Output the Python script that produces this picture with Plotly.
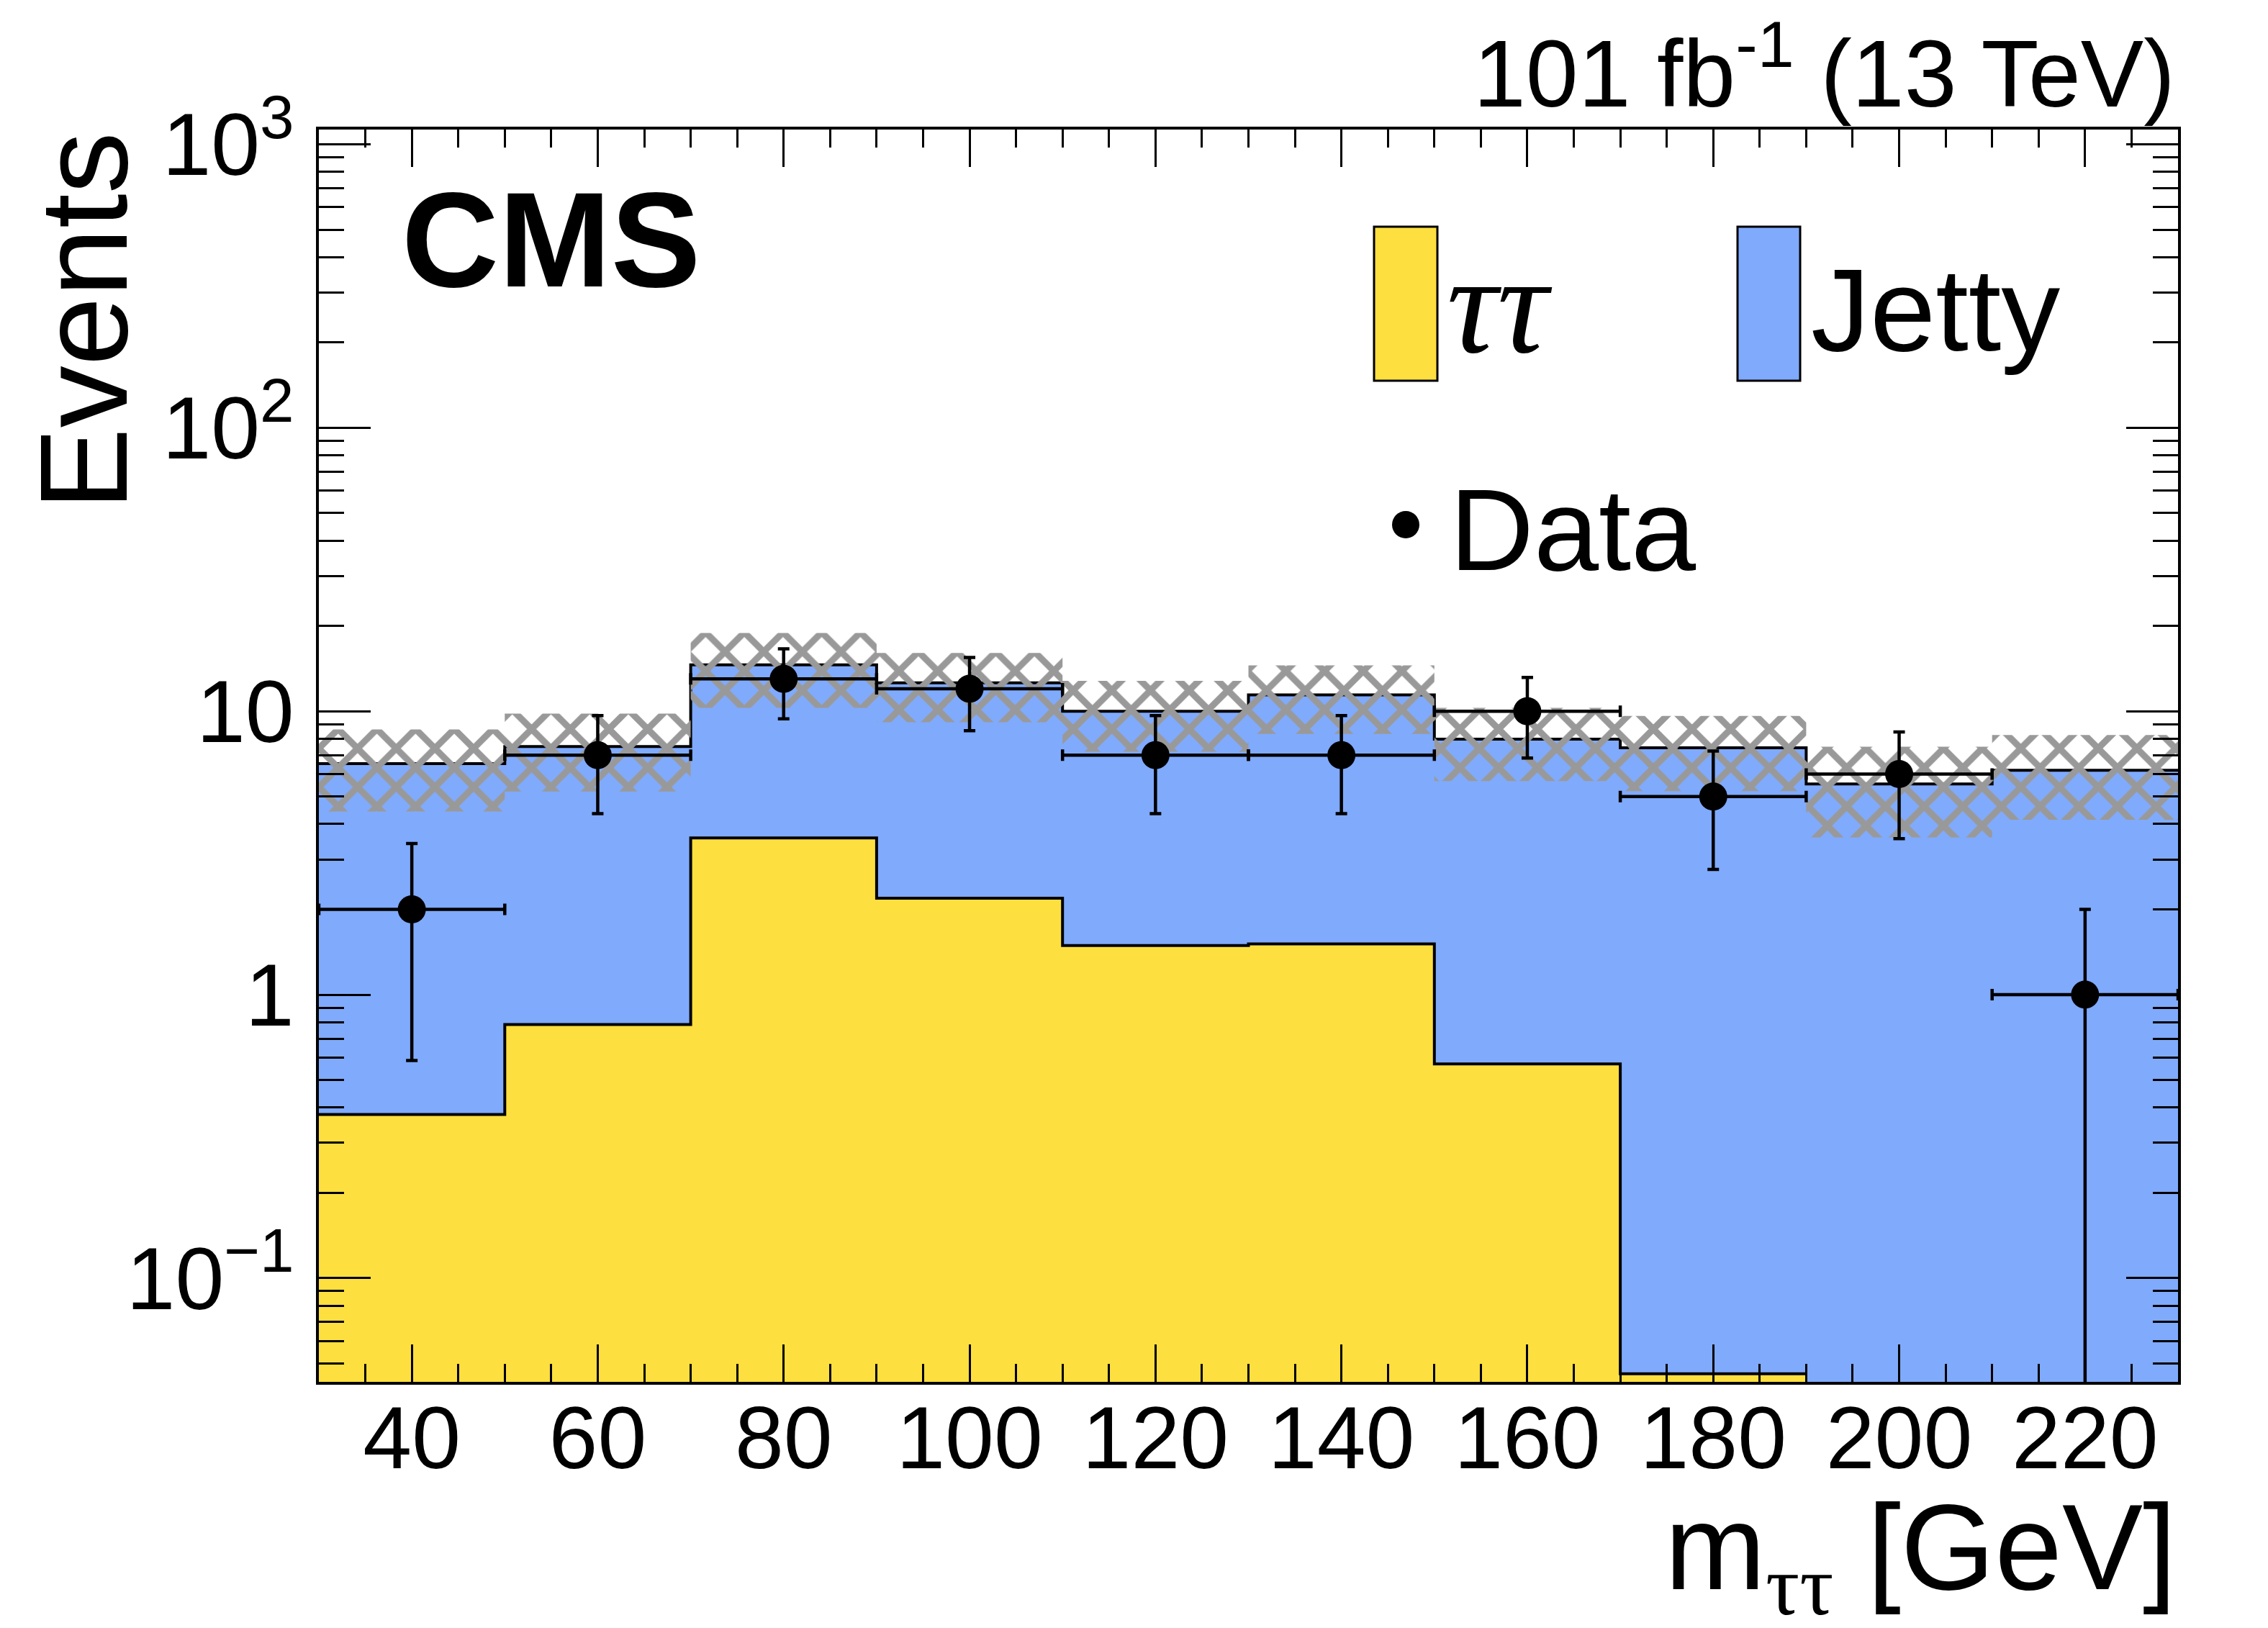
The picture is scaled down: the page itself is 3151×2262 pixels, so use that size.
import numpy as np
import plotly.graph_objects as go

# m_tautau binning [GeV]
edges = [30, 50, 70, 90, 110, 130, 150, 170, 190, 210, 230]

# stacked backgrounds (events per bin)
tautau = [0.378, 0.785, 3.57, 2.19, 1.49, 1.51, 0.57, 0.046, 0.0, 0.0]
jetty = [6.15, 6.72, 11.0, 10.4, 8.5, 9.9, 7.4, 7.38, 5.54, 6.19]
# absolute uncertainty on the total background
bkg_unc = [2.1, 2.3, 4.3, 3.45, 2.8, 3.1, 2.3, 2.2, 1.95, 2.05]

# observed
data = [2, 7, 13, 12, 7, 7, 10, 5, 6, 1]

y_ticks = [0.1, 1, 10, 100, 1000]
y_ticktext = ["10<sup>\u22121</sup>", "1", "10", "10<sup>2</sup>", "10<sup>3</sup>"]

YELLOW = "#FEDF40"
BLUE = "#80AAFC"
FONT = "Liberation Sans, Arial, Helvetica, sans-serif"
SERIF = "Liberation Serif, DejaVu Serif, serif"

W, H = 3151, 2262
L, R, T, B = 443, 3026, 180, 1920  # frame in pixels


def px_x(X):
    return (X - L) / (R - L)


def px_y(Y):
    return (B - Y) / (B - T)


edges_a = np.array(edges, dtype=float)
centers = 0.5 * (edges_a[1:] + edges_a[:-1])
widths = edges_a[1:] - edges_a[:-1]
total = np.array(tautau) + np.array(jetty)

# step outlines
xs_step = np.repeat(edges_a, 2)[1:-1]
n_tt = int(np.count_nonzero(np.array(tautau) > 0))
xs_tt = np.repeat(edges_a[:n_tt + 1], 2)[1:-1]

fig = go.Figure()

fig.add_trace(go.Bar(x=centers, y=tautau, width=widths, marker_color=YELLOW,
                     marker_line_width=0, name="ττ"))
fig.add_trace(go.Bar(x=centers, y=jetty, width=widths, marker_color=BLUE,
                     marker_line_width=0, name="Jetty"))

fig.add_trace(go.Scatter(x=xs_tt, y=np.repeat(tautau[:n_tt], 2), mode="lines",
                         line=dict(color="black", width=4), hoverinfo="skip"))
fig.add_trace(go.Scatter(x=xs_step, y=np.repeat(total, 2), mode="lines",
                         line=dict(color="black", width=4), hoverinfo="skip"))

# hatched uncertainty band
top = total + np.array(bkg_unc)
bot = total - np.array(bkg_unc)
fig.add_trace(go.Scatter(
    x=np.concatenate([xs_step, xs_step[::-1]]),
    y=np.concatenate([np.repeat(top, 2), np.repeat(bot, 2)[::-1]]),
    mode="lines", fill="toself", line=dict(width=0, color="rgba(0,0,0,0)"),
    fillcolor="rgba(0,0,0,0)",
    fillpattern=dict(shape="x", fgcolor="#999999", fgopacity=1,
                     bgcolor="rgba(0,0,0,0)", size=38, solidity=0.42,
                     fillmode="overlay"),
    hoverinfo="skip"))

fig.add_trace(go.Scatter(
    x=centers, y=data, mode="markers", name="Data",
    marker=dict(color="black", size=39),
    error_x=dict(type="data", array=widths / 2, width=8, thickness=4.5, color="black"),
    error_y=dict(type="data", array=np.sqrt(data), width=8, thickness=4.5, color="black"),
))

axis_common = dict(showline=True, linewidth=4, linecolor="black", mirror="ticks",
                   ticks="inside", tickwidth=3, tickcolor="black", showgrid=False,
                   zeroline=False, tickfont=dict(family=FONT, size=122, color="black"))

fig.update_xaxes(range=[30, 230], tickmode="linear", tick0=40, dtick=20, ticklen=52,
                 minor=dict(tickmode="linear", tick0=0, dtick=5, ticks="inside",
                            ticklen=25, tickwidth=3, tickcolor="black"),
                 ticklabelstandoff=-30, **axis_common)

minor_y = [k * 10.0 ** e for e in range(-2, 4) for k in range(2, 10)]
fig.update_yaxes(type="log", range=[-1.366, 3.052], tickmode="array", tickvals=y_ticks,
                 ticktext=y_ticktext, ticklen=72,
                 minor=dict(tickmode="array", tickvals=minor_y, ticks="inside",
                            ticklen=35, tickwidth=3, tickcolor="black"),
                 ticklabelstandoff=6, **axis_common)

ann = [
    dict(text="<b>CMS</b>", x=px_x(556), y=px_y(333), xanchor="left", yanchor="middle",
         font=dict(family=FONT, size=187, color="black")),
    dict(text="101 fb<sup>-1</sup> (13 TeV)", x=px_x(3024), y=px_y(93), xanchor="right",
         yanchor="middle", font=dict(family=FONT, size=131, color="black")),
    dict(text="Events", x=px_x(116), y=px_y(181), xanchor="center", yanchor="top",
         textangle=-90, font=dict(family=FONT, size=172, color="black")),
    dict(text="m<sub><span style='font-family:Liberation Serif'>ττ</span></sub> [GeV]",
         x=1.0, y=px_y(2162), xanchor="right", yanchor="middle",
         font=dict(family=FONT, size=168, color="black")),
    dict(text="<i>ττ</i>", x=px_x(2008), y=px_y(422), xanchor="left", yanchor="middle",
         font=dict(family=SERIF, size=196, color="black")),
    dict(text="Jetty", x=px_x(2514), y=px_y(430), xanchor="left", yanchor="middle",
         font=dict(family=FONT, size=164, color="black")),
    dict(text="Data", x=px_x(2012), y=px_y(735), xanchor="left", yanchor="middle",
         font=dict(family=FONT, size=162, color="black")),
]
for a in ann:
    fig.add_annotation(xref="paper", yref="paper", showarrow=False, **a)

shapes = [
    dict(type="rect", x0=px_x(1909), x1=px_x(1997), y0=px_y(529), y1=px_y(315),
         fillcolor=YELLOW, line=dict(color="black", width=3)),
    dict(type="rect", x0=px_x(2414), x1=px_x(2501), y0=px_y(529), y1=px_y(315),
         fillcolor=BLUE, line=dict(color="black", width=3)),
    dict(type="circle", x0=px_x(1934), x1=px_x(1972), y0=px_y(748), y1=px_y(710),
         fillcolor="black", line=dict(color="black", width=0)),
]
for s in shapes:
    fig.add_shape(xref="paper", yref="paper", **s)

fig.update_layout(width=W, height=H, barmode="stack", bargap=0, showlegend=False,
                  plot_bgcolor="white", paper_bgcolor="white",
                  margin=dict(l=L, r=W - R, t=T, b=H - B, pad=0))

fig.write_html("out.html", config={"displayModeBar": False},
               post_script="document.body.style.margin='0';")
